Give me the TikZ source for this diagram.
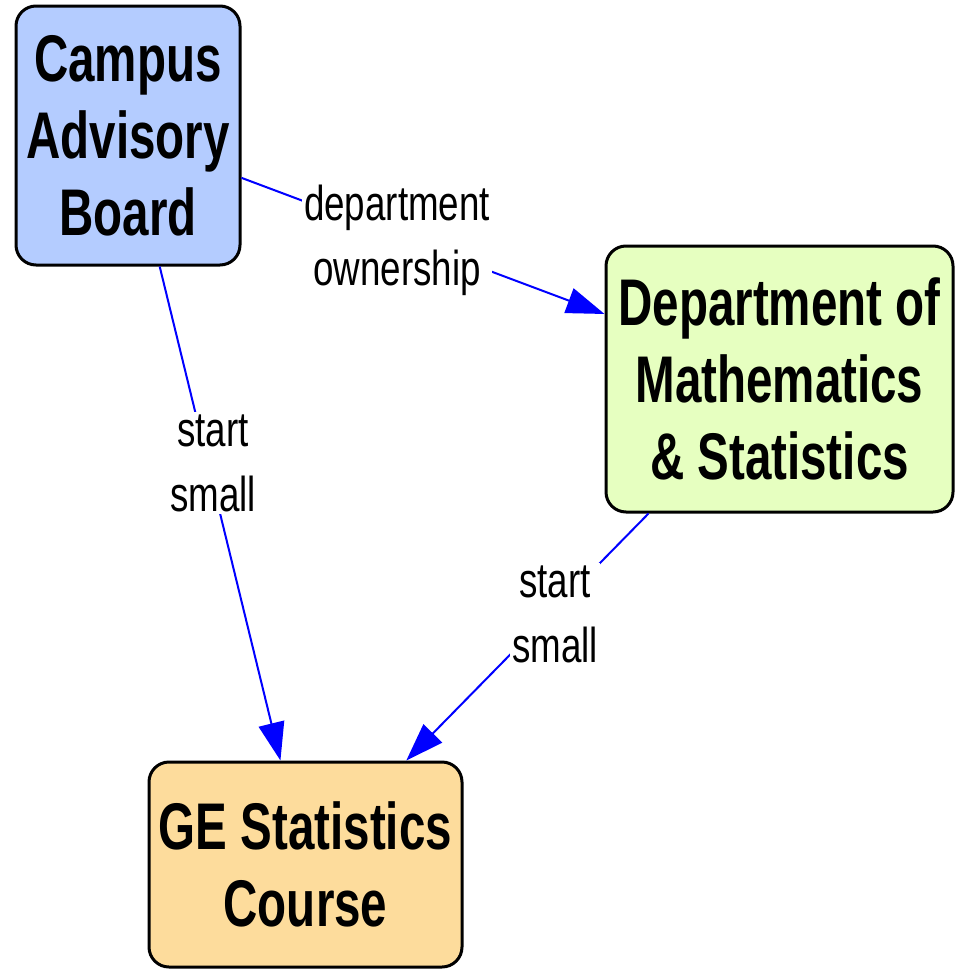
\documentclass[tikz,border=0pt]{standalone}
\usepackage{fontspec}
\usetikzlibrary{arrows.meta}
\newfontfamily\boxfont[FakeStretch=0.72]{Liberation Sans}
\newfontfamily\lblfont[FakeStretch=0.75]{Liberation Sans}
\definecolor{cabblue}{RGB}{180,204,255}
\definecolor{deptgreen}{RGB}{230,255,192}
\definecolor{georange}{RGB}{253,220,156}
\definecolor{edgeblue}{RGB}{0,0,255}
\tikzset{
  box/.style={draw=black, line width=3pt, rounded corners=20pt, align=center,
    inner sep=0pt, font=\boxfont\bfseries\fontsize{66}{77}\selectfont},
  conn/.style={draw=edgeblue, line width=2pt,
    -{Triangle[length=38pt,width=26pt]}},
  lbl/.style={fill=white, inner sep=2pt, align=center,
    font=\lblfont\fontsize{49}{65}\selectfont}
}
\begin{document}
\begin{tikzpicture}[x=1pt,y=-1pt]
\useasboundingbox (0,0) rectangle (957,969);
\node[box, fill=cabblue, minimum width=224pt, minimum height=259pt] (A) at (128,135.5) {Campus\\Advisory\\Board};
\node[box, fill=deptgreen, minimum width=347pt, minimum height=266pt] (D) at (779.5,379) {Department of\\Mathematics\\\& Statistics};
\node[box, fill=georange, minimum width=313pt, minimum height=205pt] (G) at (305.5,864.5) {GE Statistics\\Course};
\draw[conn] (A) -- (D);
\draw[conn] (A) -- (G);
\draw[conn] (D) -- (G);
\node[lbl] (l1) at (397,240) {department\\ownership};
\node[lbl] (l2) at (213,463) {start\\small};
\node[lbl] (l3) at (555,614) {start\\small};
\end{tikzpicture}
\end{document}
